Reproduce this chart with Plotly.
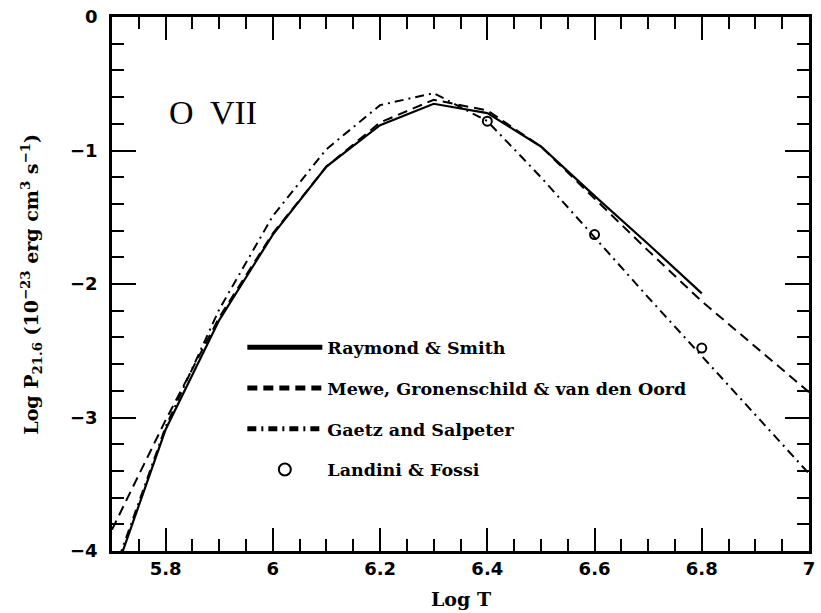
import plotly.graph_objects as go

# Data
T_rs = [5.7, 5.8, 5.9, 6.0, 6.1, 6.2, 6.3, 6.4, 6.5, 6.6, 6.7, 6.8]
L_rs = [-4.23, -3.09, -2.27, -1.63, -1.12, -0.81, -0.65, -0.72, -0.97, -1.34, -1.70, -2.07]

T_mewe = [5.7, 5.8, 5.9, 6.0, 6.1, 6.2, 6.3, 6.4, 6.5, 6.6, 6.7, 6.8, 6.9, 7.0]
L_mewe = [-3.84, -3.02, -2.25, -1.62, -1.12, -0.79, -0.62, -0.70, -0.97, -1.36, -1.75, -2.13, -2.47, -2.81]

T_gs = [5.7, 5.8, 5.9, 6.0, 6.1, 6.2, 6.3, 6.4, 6.5, 6.6, 6.7, 6.8, 6.9, 7.0]
L_gs = [-4.2, -3.07, -2.19, -1.49, -0.99, -0.66, -0.57, -0.78, -1.20, -1.65, -2.10, -2.54, -2.98, -3.42]

T_lf = [6.4, 6.6, 6.8]
L_lf = [-0.78, -1.63, -2.48]

names = ["Raymond & Smith", "Mewe, Gronenschild & van den Oord",
         "Gaetz and Salpeter", "Landini & Fossi"]

fig = go.Figure()
fig.add_trace(go.Scatter(x=T_rs, y=L_rs, mode="lines", name=names[0], legendgroup="a",
                         line=dict(color="black", width=2.2)))
fig.add_trace(go.Scatter(x=T_mewe, y=L_mewe, mode="lines", name=names[1], legendgroup="b",
                         line=dict(color="black", width=2, dash="10px,6px")))
fig.add_trace(go.Scatter(x=T_gs, y=L_gs, mode="lines", name=names[2], legendgroup="c",
                         line=dict(color="black", width=2, dash="9px,5px,2px,5px")))
fig.add_trace(go.Scatter(x=T_lf, y=L_lf, mode="markers", name=names[3], legendgroup="d",
                         marker=dict(symbol="circle-open", size=9, color="black",
                                     line=dict(width=2, color="black"))))

tickfont = dict(family="DejaVu Sans", size=18, color="black")

fig.update_xaxes(range=[5.7, 7.0], tick0=0, dtick=0.2, ticks="inside", ticklen=23, tickwidth=2,
                 tickcolor="black", showline=True, linewidth=2.5, linecolor="black", mirror="ticks",
                 showgrid=False, zeroline=False, tickfont=tickfont, ticklabelstandoff=0,
                 tickprefix="<b>", ticksuffix="</b>",
                 minor=dict(dtick=0.05, ticks="inside", ticklen=12, tickwidth=2, tickcolor="black",
                            showgrid=False))
fig.update_yaxes(range=[-4, 0], tick0=0, dtick=1, ticks="inside", ticklen=24, tickwidth=2,
                 tickcolor="black", showline=True, linewidth=2.5, linecolor="black", mirror="ticks",
                 showgrid=False, zeroline=False, tickfont=tickfont, ticklabelstandoff=8,
                 tickprefix="<b>", ticksuffix="</b>",
                 minor=dict(dtick=0.2, ticks="inside", ticklen=12, tickwidth=2, tickcolor="black",
                            showgrid=False))

serif_bold = dict(family="DejaVu Serif", size=17.5, color="black", weight="bold")

fig.update_layout(
    width=821, height=613,
    margin=dict(l=112, r=6, t=17, b=62),
    plot_bgcolor="white", paper_bgcolor="white",
    showlegend=True,
    legend=dict(x=0.187, y=0.415, xanchor="left", yanchor="top", bgcolor="rgba(0,0,0,0)",
                font=serif_bold, traceorder="grouped", tracegroupgap=15, itemwidth=75,
                itemsizing="constant"),
    annotations=[
        dict(text="O  VII", x=(214 - 112) / 703, y=(551 - 112) / 534, xref="paper", yref="paper",
             xanchor="center", yanchor="middle", showarrow=False,
             font=dict(family="Liberation Serif", size=34, color="black")),
        dict(text="<b>Log T</b>", x=0.5, y=(551 - 599) / 534, xref="paper", yref="paper",
             xanchor="center", yanchor="middle", showarrow=False,
             font=dict(family="DejaVu Serif", size=19, color="black")),
        dict(text="<b>Log P<sub>21.6</sub> (10<sup>−23</sup> erg cm<sup>3</sup> s<sup>−1</sup>)</b>",
             x=(30 - 112) / 703, y=0.5, xref="paper", yref="paper", textangle=-90,
             xanchor="center", yanchor="middle", showarrow=False,
             font=dict(family="DejaVu Serif", size=19, color="black")),
    ],
)

fig.write_html("out.html")
